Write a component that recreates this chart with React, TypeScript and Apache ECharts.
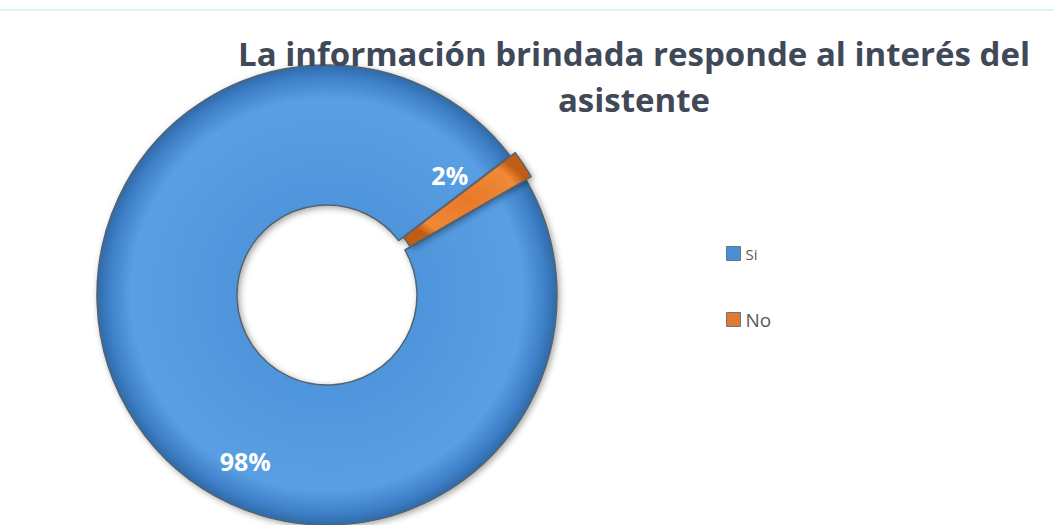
import React, { useEffect, useRef } from "react";
import * as echarts from "echarts";

const titleLines = ["La información brindada responde al interés del", "asistente"];
const categories = ["Si", "No"];
const values = [98, 2];
const labels = ["98%", "2%"];

export default function App() {
  const ref = useRef<HTMLDivElement>(null);
  useEffect(() => {
    if (!ref.current) return;
    const chart = echarts.init(ref.current, undefined, { renderer: "svg" });
    const blue = new echarts.graphic.RadialGradient(0.5, 0.5, 0.5, [
      { offset: 0, color: "#5a9ce0" },
      { offset: 0.4, color: "#4f95dc" },
      { offset: 0.85, color: "#5a9fe3" },
      { offset: 0.95, color: "#3e80c8" },
      { offset: 1, color: "#2f6aa8" },
    ]);
    const orange = new echarts.graphic.RadialGradient(0.5, 0.5, 0.5, [
      { offset: 0, color: "#e8782a" },
      { offset: 0.8, color: "#f08a36" },
      { offset: 1, color: "#c05c14" },
    ]);
    const colors = [blue, orange];
    const legendColors = ["#4a8fd6", "#e07a30"];
    const shifts = [
      { dx: 54, dy: 76 },
      { dx: -18, dy: -26 },
    ];
    chart.setOption({
      animation: false,
      backgroundColor: "#ffffff",
      title: {
        text: titleLines.join("\n"),
        left: 629,
        top: 25,
        textAlign: "center",
        textStyle: {
          fontFamily: "Open Sans",
          fontWeight: "bold",
          fontSize: 33,
          color: "#3f4958",
          lineHeight: 46,
        },
      },
      legend: {
        orient: "vertical",
        left: 721,
        top: 241,
        itemGap: 49,
        itemWidth: 14,
        itemHeight: 14,
        icon: "rect",
        formatter: (name: string) => (name === "Si" ? "{a|" + name + "}" : "{b|" + name + "}"),
        textStyle: {
          fontFamily: "Open Sans",
          color: "#595959",
          rich: {
            a: { fontSize: 15, fontFamily: "Open Sans", color: "#595959" },
            b: { fontSize: 19, fontFamily: "Open Sans", color: "#595959" },
          },
        },
        data: categories.map((c, i) => ({
          name: c,
          itemStyle: { color: legendColors[i], borderColor: "#6b7480", borderWidth: 1 },
        })),
      },
      series: [
        {
          type: "pie",
          center: [327, 295],
          radius: [90, 230],
          startAngle: 30,
          clockwise: true,
          selectedMode: "single",
          selectedOffset: 6,
          label: {
            show: true,
            position: "inside",
            color: "#ffffff",
            fontFamily: "Open Sans",
            fontWeight: "bold",
            fontSize: 25,
            formatter: (p: any) => labels[p.dataIndex],
          },
          labelLayout: (p: any) => shifts[p.dataIndex],
          labelLine: { show: false },
          itemStyle: {
            borderColor: "#55636f",
            borderWidth: 1.5,
            shadowBlur: 6,
            shadowColor: "rgba(0,0,0,0.35)",
            shadowOffsetX: 2,
            shadowOffsetY: 2,
          },
          emphasis: { disabled: true },
          data: categories.map((c, i) => ({
            name: c,
            value: values[i],
            selected: i === 1,
            itemStyle: { color: colors[i] },
          })),
        },
      ],
      graphic: [
        {
          type: "line",
          shape: { x1: 0, y1: 10, x2: 1054, y2: 10 },
          style: { stroke: "#d8f6fa", lineWidth: 2 },
        },
      ],
    });
    return () => chart.dispose();
  }, []);
  return (
    <div
      ref={ref}
      style={{ position: "absolute", left: 0, top: 0, width: 1054, height: 525 }}
    />
  );
}
